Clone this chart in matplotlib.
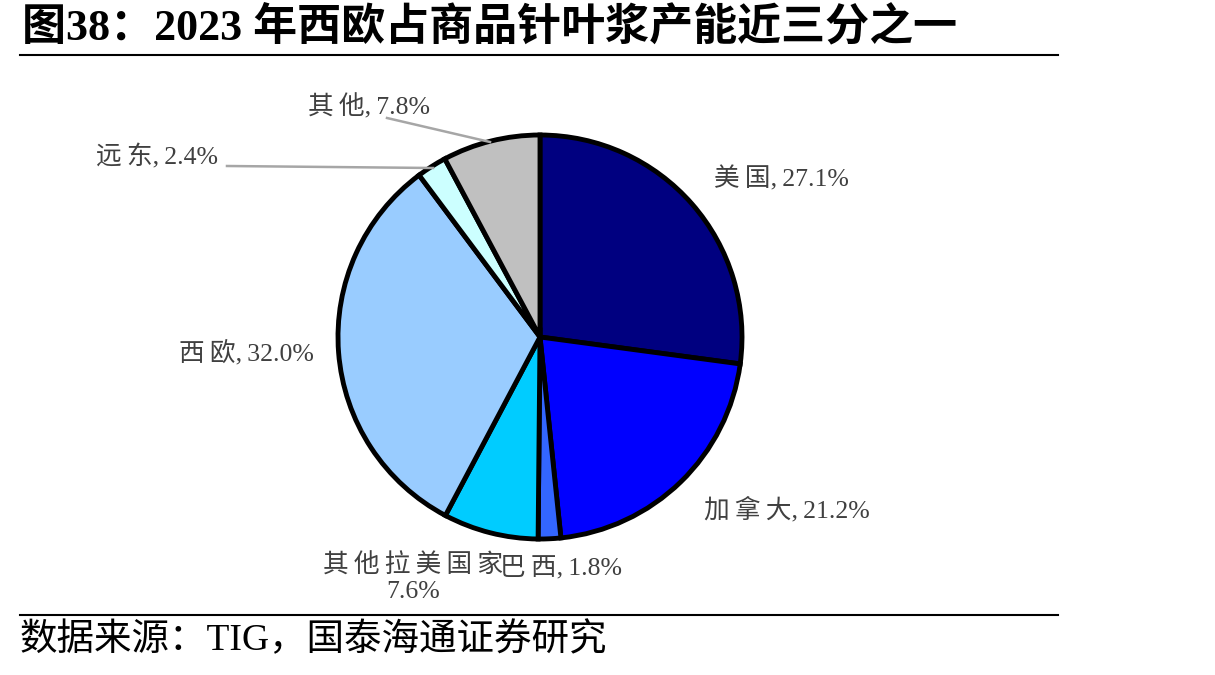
import matplotlib
matplotlib.use("Agg")
import matplotlib.pyplot as plt

plt.rcParams['font.family'] = ['Liberation Serif', 'Noto Sans CJK SC']

categories = ["美国", "加拿大", "巴西", "其他拉美国家", "西欧", "远东", "其他"]
values = [27.1, 21.2, 1.8, 7.6, 32.0, 2.4, 7.8]
colors = ["#000080", "#0000FF", "#3366FF", "#00CCFF", "#99CCFF", "#CCFFFF", "#C0C0C0"]
title = "图38：2023 年西欧占商品针叶浆产能近三分之一"
source = "数据来源：TIG，国泰海通证券研究"

W, H = 1215, 675
fig = plt.figure(figsize=(W / 100, H / 100), dpi=100)
ax = fig.add_axes([0, 0, 1, 1])

def Y(y):
    return H - y

ax.pie(values, colors=colors, startangle=90, counterclock=False,
       center=(540, Y(337)), radius=202,
       wedgeprops=dict(edgecolor='black', linewidth=3.5), frame=True)
ax.set_xlim(0, W)
ax.set_ylim(0, H)
ax.set_aspect('equal')
ax.axis('off')

TS = "\u2009"
def spaced(s):
    return TS.join(s)

lab_color = "#404040"
fs = 18.5
labels = [f"{spaced(c)},{TS}{v:.1f}%" for c, v in zip(categories, values)]
labels[3] = f"{spaced(categories[3])}\n{values[3]:.1f}%"
pos = [(781, 179), (787, 510), (561, 568), (413, 578), (246, 353), (157, 157), (369, 107)]
for t, (x, y) in zip(labels, pos):
    ax.text(x, Y(y), t, ha='center', va='center', fontsize=fs, color=lab_color,
            linespacing=1.2)

# leader lines
ax.plot([387, 490], [Y(118), Y(142)], color="#A6A6A6", lw=1.8)
ax.plot([227, 433], [Y(166), Y(168)], color="#A6A6A6", lw=1.8)

# title & rules
ax.text(22, Y(27), title, ha='left', va='center', fontsize=31.7, fontweight='bold', color='black')
ax.plot([20, 1058], [Y(55), Y(55)], color='black', lw=1.5)
ax.plot([20, 1058], [Y(615), Y(615)], color='black', lw=1.5)
ax.text(20, Y(640), source, ha='left', va='center', fontsize=27, color='black')

fig.savefig("out.png", dpi=100)
